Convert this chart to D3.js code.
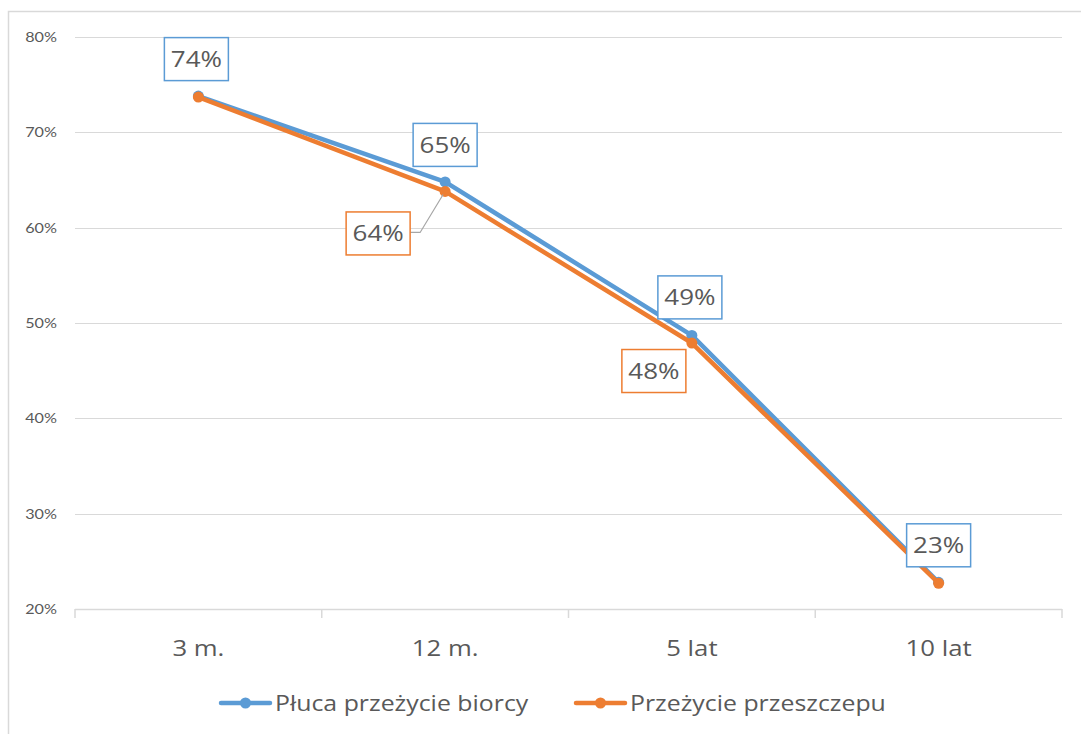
<!DOCTYPE html>
<html>
<head>
<meta charset="utf-8">
<script src="https://cdn.jsdelivr.net/npm/d3@7"></script>
<style>
  html, body { margin: 0; padding: 0; background: #fff; }
  svg { display: block; }
  text { font-family: "Open Sans", "Noto Sans", sans-serif; fill: #595959; }
</style>
</head>
<body>
<svg id="chart" width="1081" height="734"></svg>
<script>
// Survival after lung transplantation
const categories = ["3 m.", "12 m.", "5 lat", "10 lat"];
const recipientSurvival = [0.738, 0.648, 0.487, 0.228];   // Płuca przeżycie biorcy
const graftSurvival     = [0.737, 0.638, 0.479, 0.227];   // Przeżycie przeszczepu
const yTicks = [0.2, 0.3, 0.4, 0.5, 0.6, 0.7, 0.8];
const seriesNames = ["Płuca przeżycie biorcy", "Przeżycie przeszczepu"];
// categories whose points carry a data label, per series
const labelled = [[0, 1, 2, 3], [1, 2]];

const colors = ["#5b9bd5", "#ed7d31"];
const svg = d3.select("#chart");
const W = 1081, H = 734;
const plot = { left: 75, right: 1062, top: 37, bottom: 609 };

// text drawn slightly widened, like the original wide UI face
function wideText(sel, tx, ty, str, size, sx, anchor) {
  return sel.append("text")
    .attr("transform", `translate(${tx},${ty}) scale(${sx},1)`)
    .attr("text-anchor", anchor || "start")
    .attr("font-size", size).text(str);
}

// outer chart frame
svg.append("rect").attr("x", 8.5).attr("y", 11.5)
  .attr("width", W).attr("height", H)
  .attr("fill", "none").attr("stroke", "#d9d9d9").attr("stroke-width", 1.5);

const x = d3.scaleBand().domain(categories).range([plot.left, plot.right]);
const y = d3.scaleLinear().domain([0.2, 0.8]).range([plot.bottom, plot.top]);
const cx = c => x(c) + x.bandwidth() / 2;

// gridlines
svg.append("g").selectAll("line").data(yTicks.slice(1)).join("line")
  .attr("x1", plot.left).attr("x2", plot.right)
  .attr("y1", d => Math.round(y(d)) + 0.5).attr("y2", d => Math.round(y(d)) + 0.5)
  .attr("stroke", "#d9d9d9").attr("stroke-width", 1.2);

// y axis labels
const yFmt = d3.format(".0%");
const gy = svg.append("g");
yTicks.forEach(t => wideText(gy, plot.left - 18, y(t) + 5, yFmt(t), 13.5, 1.2, "end")
  .style("font-family", "Lato, sans-serif"));

// x axis baseline with boundary ticks
const gx = svg.append("g");
gx.append("line").attr("x1", plot.left).attr("x2", plot.right)
  .attr("y1", plot.bottom + 0.5).attr("y2", plot.bottom + 0.5)
  .attr("stroke", "#d9d9d9").attr("stroke-width", 1.5);
const bounds = categories.map(c => x(c)).concat([x(categories[categories.length - 1]) + x.bandwidth()]);
gx.selectAll("line.tick").data(bounds).join("line").attr("class", "tick")
  .attr("x1", d => d).attr("x2", d => d)
  .attr("y1", plot.bottom).attr("y2", plot.bottom + 9)
  .attr("stroke", "#d9d9d9").attr("stroke-width", 1.5);
categories.forEach(c => wideText(gx, cx(c), 656, c, 22, 1.17, "middle"));

// series lines and markers
const series = [recipientSurvival, graftSurvival];
const line = d3.line().x((d, i) => cx(categories[i])).y(d => y(d));
series.forEach((vals, s) => {
  svg.append("path").datum(vals).attr("d", line)
    .attr("fill", "none").attr("stroke", colors[s]).attr("stroke-width", 4.5)
    .attr("stroke-linejoin", "round").attr("stroke-linecap", "round");
  svg.append("g").selectAll("circle").data(vals).join("circle")
    .attr("cx", (d, i) => cx(categories[i])).attr("cy", d => y(d))
    .attr("r", 5.5).attr("fill", colors[s]);
});

// boxed data labels, offsets of the box centre from the marker
const fmt = d3.format(".0%");
const offsets = [
  [{ dx: -2, dy: -37 }, { dx: 0, dy: -37 }, { dx: -2, dy: -38 }, { dx: 0, dy: -37 }],
  [null, { dx: -67, dy: 42 }, { dx: -38, dy: 28 }, null]
];
const boxW = 64, boxH = 43;
series.forEach((vals, s) => {
  labelled[s].forEach(i => {
    const v = vals[i];
    const px = cx(categories[i]), py = y(v);
    const bx = px + offsets[s][i].dx, by = py + offsets[s][i].dy;
    const g = svg.append("g");
    if (s === 1 && i === 1) {
      // leader line from the displaced label back to its point
      g.append("polyline")
        .attr("points", [[bx + boxW / 2, by - 1], [bx + boxW / 2 + 10, by - 1], [px - 2, py + 3]].map(p => p.join(",")).join(" "))
        .attr("fill", "none").attr("stroke", "#a6a6a6").attr("stroke-width", 1.2);
    }
    g.append("rect").attr("x", bx - boxW / 2).attr("y", by - boxH / 2)
      .attr("width", boxW).attr("height", boxH)
      .attr("fill", "#fff").attr("stroke", colors[s]).attr("stroke-width", 1.5);
    wideText(g, bx, by + 8, fmt(v), 22, 1.18, "middle");
  });
});

// legend
const legendItems = [{ x: 221, name: seriesNames[0], c: colors[0] }, { x: 576, name: seriesNames[1], c: colors[1] }];
const lg = svg.append("g");
legendItems.forEach(it => {
  lg.append("line").attr("x1", it.x).attr("x2", it.x + 49).attr("y1", 703).attr("y2", 703)
    .attr("stroke", it.c).attr("stroke-width", 4.5).attr("stroke-linecap", "round");
  lg.append("circle").attr("cx", it.x + 24.5).attr("cy", 703).attr("r", 5.5).attr("fill", it.c);
  wideText(lg, it.x + 54, 711, it.name, 22, 1.13, "start");
});
</script>
</body>
</html>
